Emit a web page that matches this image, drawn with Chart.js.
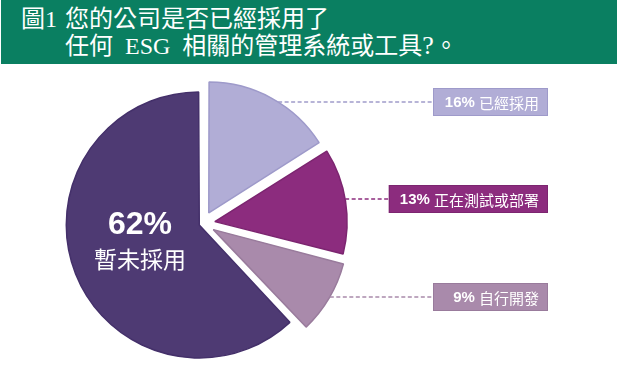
<!DOCTYPE html>
<html>
<head>
<meta charset="utf-8">
<script src="https://cdn.jsdelivr.net/npm/chart.js@4"></script>
<style>
  html, body { margin: 0; padding: 0; background: #fff; }
  #page { position: relative; width: 617px; height: 371px; overflow: hidden; }
  #header { position: absolute; left: 1px; top: 0; width: 616px; height: 64px; background: #0a7f61; }
  .t { position: absolute; color: #fff; font-family: "Liberation Serif", "Noto Sans CJK TC", serif; font-size: 24px; line-height: 24px; white-space: nowrap; }
  #pieChart { position: absolute; left: 0; top: 0; }
</style>
</head>
<body>
<div id="page">
  <div id="header">
    <div class="t" style="left:20px; top:7px;">圖1</div>
    <div class="t" style="left:64px; top:7px;">您的公司是否已經採用了</div>
    <div class="t" style="left:64px; top:34px;">任何&nbsp; ESG&nbsp; 相關的管理系統或工具<span style="font-size:26px">?</span>。</div>
  </div>
  <canvas id="pieChart" width="617" height="371"></canvas>
</div>
<script>
const categories = ['已經採用', '正在測試或部署', '自行開發', '暫未採用']
const shares = [16, 13, 9, 62]
const fillColors = ['#b1add6', '#8c2c7e', '#a98aab', '#4e3a73']
const edgeColors = ['#9e9aca', '#7c2570', '#997b9c', '#44306a']

// callout boxes on the right (top of box, in px)
const boxTops = [88, 185, 283]

const calloutPlugin = {
  id: 'callouts',
  afterDatasetsDraw(chart) {
    const ctx = chart.ctx
    const arcs = chart.getDatasetMeta(0).data
    ctx.save()
    arcs.forEach((arc, i) => {
      // same shift / radius growth chart.js applies for the offset option
      const off = (arc.options.offset || 0) / 4
      const circ = arc.endAngle - arc.startAngle
      const mid = (arc.startAngle + arc.endAngle) / 2
      const ox = arc.x + Math.cos(mid) * off
      const oy = arc.y + Math.sin(mid) * off
      const r = arc.outerRadius + off * (1 - Math.sin(Math.min(Math.PI, circ)))
      const label = shares[i] + '%'
      if (i === shares.length - 1) {
        // big slice label in the middle of the slice
        ctx.fillStyle = '#fff'
        ctx.textAlign = 'center'
        ctx.textBaseline = 'middle'
        ctx.font = 'bold 32px "Liberation Sans", Arial, sans-serif'
        ctx.fillText(label, arc.x - 63, 225)
        ctx.font = '23px "Noto Sans CJK TC", sans-serif'
        ctx.fillText(categories[i], arc.x - 63, 259)
        return
      }
      const h = 28
      const right = 548
      const y = boxTops[i] + h / 2
      ctx.font = 'bold 15px "Liberation Sans", Arial, sans-serif'
      const w1 = ctx.measureText(label + ' ').width
      ctx.font = '15px "Noto Sans CJK TC", sans-serif'
      const w2 = ctx.measureText(categories[i]).width
      const bw = Math.max(115, w1 + w2 + 20)
      const left = right - bw

      // dashed connector from the slice edge
      const dy = y - oy
      const sx = ox + Math.sqrt(Math.max(r * r - dy * dy, 0))
      ctx.strokeStyle = i === 0 ? '#a09cca' : fillColors[i]
      ctx.lineWidth = 1.4
      ctx.setLineDash([4, 2.5])
      ctx.beginPath()
      ctx.moveTo(sx, y)
      ctx.lineTo(left, y)
      ctx.stroke()
      ctx.setLineDash([])

      ctx.fillStyle = fillColors[i]
      ctx.fillRect(left, boxTops[i], bw, h)
      ctx.strokeStyle = edgeColors[i]
      ctx.lineWidth = 1
      ctx.strokeRect(left + 0.5, boxTops[i] + 0.5, bw - 1, h - 1)

      ctx.fillStyle = '#fff'
      ctx.textBaseline = 'middle'
      ctx.textAlign = 'left'
      const tx = right - 9 - w1 - w2
      ctx.font = 'bold 15px "Liberation Sans", Arial, sans-serif'
      ctx.fillText(label, tx, y + 1)
      ctx.font = '15px "Noto Sans CJK TC", sans-serif'
      ctx.fillText(categories[i], tx + w1, y + 1)
    })
    ctx.restore()
  }
}

new Chart(document.getElementById('pieChart'), {
  type: 'pie',
  data: {
    labels: categories,
    datasets: [{
      data: shares,
      backgroundColor: fillColors,
      borderColor: edgeColors,
      borderWidth: 1.5,
      offset: [48, 48, 48, 16]
    }]
  },
  options: {
    responsive: false,
    animation: false,
    radius: 129,
    layout: { padding: { left: 70, right: 281, top: 88, bottom: 12 } },
    plugins: {
      legend: { display: false },
      tooltip: { enabled: false }
    }
  },
  plugins: [calloutPlugin]
})
</script>
</body>
</html>
